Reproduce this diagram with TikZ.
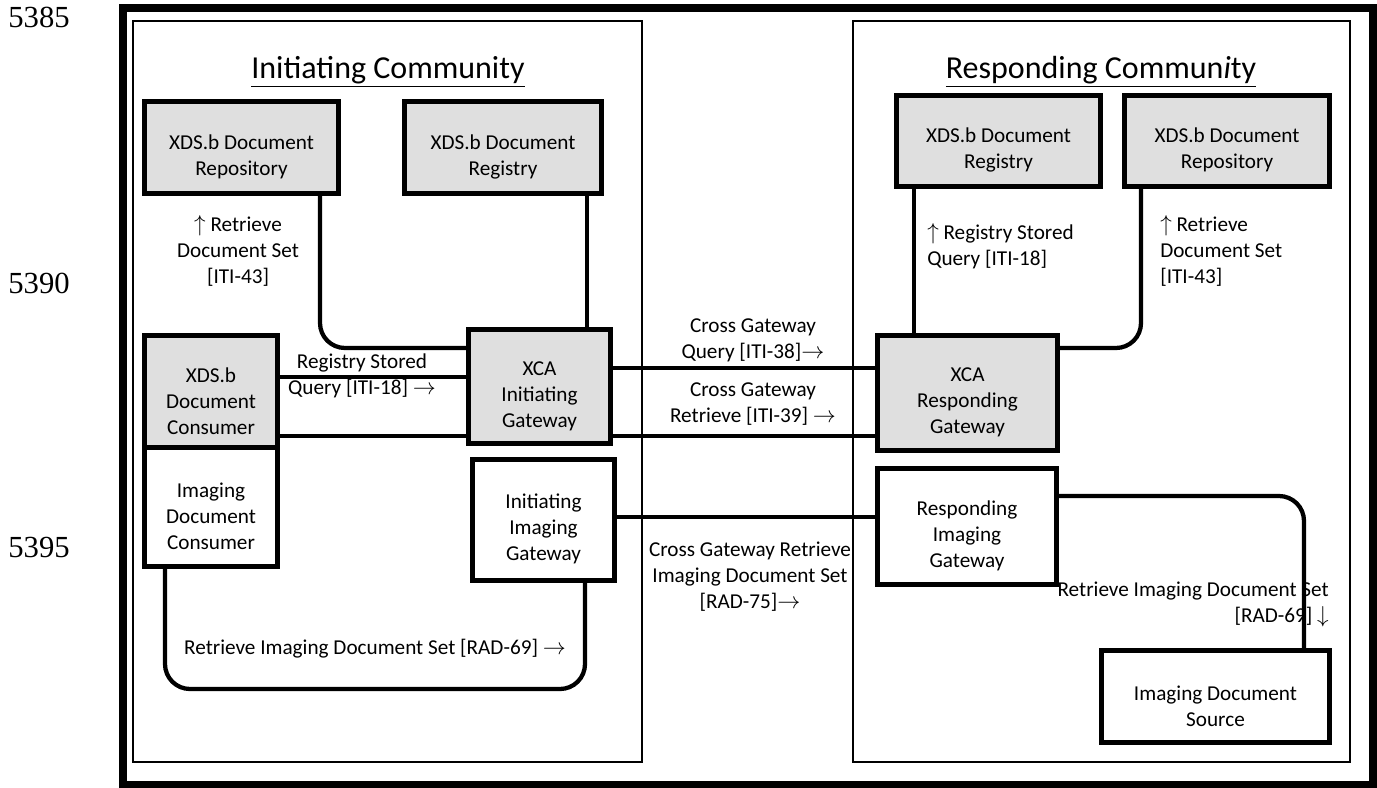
\documentclass[tikz,border=0pt]{standalone}
\usepackage{fontspec}
\setmainfont{Carlito}
\newfontfamily\numfont{Liberation Serif}
\definecolor{grigioattore}{RGB}{223,223,223}
\newcommand{\abbassa}{\rule{0pt}{25pt}}
\begin{document}
\begin{tikzpicture}[x=0.75pt,y=-0.75pt,line join=miter,
    font=\fontsize{15.9}{19.5}\selectfont,
    attore/.style={draw,line width=3.75pt,align=center,inner sep=0pt},
    grigio/.style={attore,fill=grigioattore},
    comunita/.style={line width=1.5pt},
    cornice/.style={line width=6pt},
    collega/.style={line width=3.2pt,rounded corners=25*0.75pt},
    etichetta/.style={inner sep=0pt,align=center},
    titolo/.style={inner sep=0pt,anchor=base,font=\fontsize{24}{28}\selectfont},
    riga/.style={inner sep=0pt,font=\numfont\fontsize{23}{26}\selectfont}]

  \useasboundingbox (0,0) rectangle (1377,788);

  % numeri di riga
  \node[riga] (n5385) at (39,17) {5385};
  \node[riga] (n5390) at (39,283) {5390};
  \node[riga] (n5395) at (39,547) {5395};

  % cornice e le due comunita
  \draw[cornice] (123,8.5) rectangle (1372.5,784.5);
  \draw[comunita] (133,21) rectangle (642,762);
  \draw[comunita] (853,21) rectangle (1350,762);
  \node[titolo] (tInit) at (388,79) {\underline{Initiating Community}};
  \node[titolo] (tResp) at (1101,79) {\underline{Responding Commun\textit{i}ty}};

  % ---- comunita iniziatrice ----------------------------------------------
  \node[grigio,minimum width=145.5pt,minimum height=69pt]
       (repoI) at (241.5,147.5) {\abbassa XDS.b Document\\Repository};
  \node[grigio,minimum width=147.75pt,minimum height=69pt]
       (regI) at (503,147.5) {\abbassa XDS.b Document\\Registry};
  \node[grigio,minimum width=106.5pt,minimum height=85.5pt]
       (xcaI) at (539.5,386.5) {\abbassa XCA\\Initiating\\Gateway};
  \node[grigio,minimum width=99.75pt,minimum height=84pt]
       (consI) at (211,391.5) {\abbassa XDS.b\\Document\\Consumer};
  \node[attore,minimum width=99.75pt,minimum height=89.25pt]
       (imgCons) at (211,507) {\abbassa Imaging\\Document\\Consumer};
  \node[attore,minimum width=106.5pt,minimum height=90.75pt]
       (iigw) at (543.5,520) {\abbassa Initiating\\Imaging\\Gateway};

  % ---- comunita rispondente ----------------------------------------------
  \node[grigio,minimum width=153pt,minimum height=68.25pt]
       (regR) at (998.5,141) {\abbassa XDS.b Document\\Registry};
  \node[grigio,minimum width=153.75pt,minimum height=68.25pt]
       (repoR) at (1227,141) {\abbassa XDS.b Document\\Repository};
  \node[grigio,minimum width=135pt,minimum height=86.25pt]
       (xcaR) at (967.5,393) {\abbassa XCA\\Responding\\Gateway};
  \node[attore,minimum width=134.25pt,minimum height=87pt]
       (rigw) at (967,526.5) {\abbassa Responding\\Imaging\\Gateway};
  \node[attore,minimum width=171pt,minimum height=69pt]
       (ids) at (1215.5,696.5) {\abbassa Imaging Document\\Source};

  % ---- collegamenti interni (sinistra) -----------------------------------
  \draw[collega] (repoI.south -| 320,0) |- (xcaI.west |- 0,348);
  \draw[collega] (regI.south -| 587,0) -- (xcaI.north -| 587,0);
  \draw[collega] (consI.east |- 0,377) -- (xcaI.west |- 0,377);
  \draw[collega] (consI.east |- 0,436) -- (xcaI.west |- 0,436);
  \draw[collega] (imgCons.south -| 165,0) |- (585,689) -- (iigw.south -| 585,0);

  % ---- transazioni tra comunita ------------------------------------------
  \draw[collega] (xcaI.east |- 0,368) -- (xcaR.west |- 0,368);
  \draw[collega] (xcaI.east |- 0,436) -- (xcaR.west |- 0,436);
  \draw[collega] (iigw.east |- 0,517) -- (rigw.west |- 0,517);

  % ---- collegamenti interni (destra) -------------------------------------
  \draw[collega] (regR.south -| 914,0) -- (xcaR.north -| 914,0);
  \draw[collega] (repoR.south -| 1141,0) |- (xcaR.east |- 0,348);

  % etichette
  \node[etichetta] (lRetI) at (238,251) {$\uparrow$ Retrieve\\Document Set\\{}[ITI-43]};
  \node[etichetta] (lRsq) at (362,376) {Registry Stored\\Query [ITI-18] $\rightarrow$};
  \node[etichetta] (lCgq) at (753,340) {Cross Gateway\\Query [ITI-38]$\rightarrow$};
  \node[etichetta] (lCgr) at (753,404) {Cross Gateway\\Retrieve [ITI-39] $\rightarrow$};
  \node[etichetta] (lRad75) at (750,577)
       {Cross Gateway Retrieve\\Imaging Document Set\\{}[RAD-75]$\rightarrow$};
  \node[etichetta] (lRad69I) at (375,649)
       {Retrieve Imaging Document Set [RAD-69] $\rightarrow$};
  \node[etichetta,align=left,anchor=west] (lRsqR) at (927,246)
       {$\uparrow$ Registry Stored\\Query [ITI-18]};
  \node[etichetta,align=left,anchor=west] (lRetR) at (1160,251)
       {$\uparrow$ Retrieve\\Document Set\\{}[ITI-43]};
  \node[etichetta,align=right,anchor=east] (lRad69R) at (1329,604)
       {Retrieve Imaging Document Set\\{}[RAD-69] $\downarrow$};

  \draw[collega] (rigw.east |- 0,496) -| (ids.north -| 1304,0);

\end{tikzpicture}
\end{document}
